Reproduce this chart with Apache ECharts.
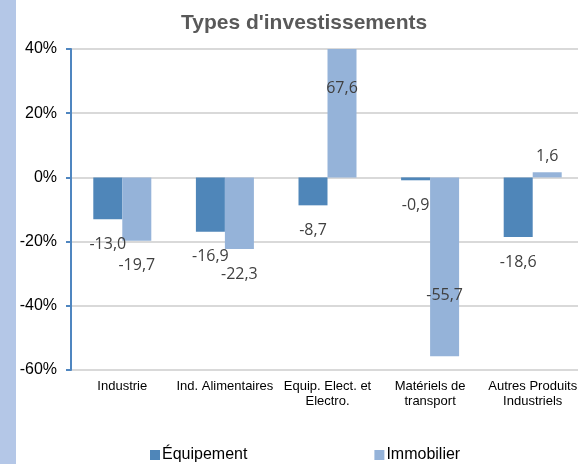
<!DOCTYPE html>
<html>
<head>
<meta charset="utf-8">
<script src="https://cdn.jsdelivr.net/npm/echarts@6/dist/echarts.min.js"></script>
<style>
  html, body { margin: 0; padding: 0; background: #fff; }
  #chart { width: 578px; height: 464px; }
</style>
</head>
<body>
<div id="chart"></div>
<script>
  // données
  var categories = ['Industrie', 'Ind. Alimentaires', 'Equip. Elect. et\nElectro.', 'Matériels de\ntransport', 'Autres Produits\nIndustriels'];
  var equipement = [-13.0, -16.9, -8.7, -0.9, -18.6];
  var immobilier = [-19.7, -22.3, 67.6, -55.7, 1.6];
  var yTicks = [-60, -40, -20, 0, 20, 40];

  var labelColor = '#404040';

  function fmt(v) {
    return v.toFixed(1).replace('.', ',');
  }

  // étiquettes : dehors, sauf les barres coupées / trop longues
  function buildData(values) {
    return values.map(function (v) {
      var item = { value: v, label: { position: 'outside', distance: v < 0 ? 17 : 8 } };
      if (v > yTicks[yTicks.length - 1]) {
        item.label = { position: 'insideTop', distance: 31 };
      } else if (v < -50) {
        item.label = { position: 'insideBottom', distance: 53 };
      }
      return item;
    });
  }

  var chart = echarts.init(document.getElementById('chart'));
  chart.setOption({
    animation: false,
    title: {
      text: "Types d'investissements",
      left: 176,
      top: 8,
      textStyle: { fontFamily: 'Liberation Sans', fontSize: 21, fontWeight: 'bold', color: '#595959' }
    },
    graphic: [{
      type: 'rect',
      shape: { x: 0, y: 0, width: 16, height: 464 },
      style: { fill: '#b4c7e7' },
      silent: true
    }],
    legend: {
      left: 145,
      bottom: -4,
      itemWidth: 10,
      itemHeight: 10,
      itemGap: 127,
      icon: 'rect',
      textStyle: { fontFamily: 'Liberation Sans', fontSize: 16, color: '#000', padding: [0, 0, 0, -3] },
      data: ['Équipement', 'Immobilier']
    },
    grid: { left: 71, width: 513, top: 49, height: 321, outerBoundsMode: 'none' },
    xAxis: {
      type: 'category',
      data: categories,
      axisLine: { show: false },
      axisTick: { show: false },
      axisLabel: { interval: 0, margin: 9, fontFamily: 'Liberation Sans', fontSize: 13, color: '#000', lineHeight: 15 }
    },
    yAxis: {
      type: 'value',
      min: yTicks[0],
      max: yTicks[yTicks.length - 1],
      interval: 20,
      axisLine: { show: true, lineStyle: { color: '#4f86c0', width: 2 } },
      axisTick: { show: true, length: 5, lineStyle: { color: '#4f86c0', width: 2 } },
      axisLabel: { margin: 14, fontFamily: 'Liberation Sans', fontSize: 16, color: '#000', formatter: '{value}%' },
      splitLine: { lineStyle: { color: '#d9d9d9', width: 2 } }
    },
    series: [
      {
        name: 'Équipement',
        type: 'bar',
        barWidth: 29,
        barGap: '0%',
        itemStyle: { color: '#4f86b9' },
        label: { show: true, color: labelColor, fontFamily: 'Open Sans', fontSize: 16, formatter: function (p) { return fmt(p.value); } },
        data: buildData(equipement)
      },
      {
        name: 'Immobilier',
        type: 'bar',
        barWidth: 29,
        barGap: '0%',
        itemStyle: { color: '#95b3d9' },
        label: { show: true, color: labelColor, fontFamily: 'Open Sans', fontSize: 16, formatter: function (p) { return fmt(p.value); } },
        data: buildData(immobilier)
      }
    ]
  });
</script>
</body>
</html>
